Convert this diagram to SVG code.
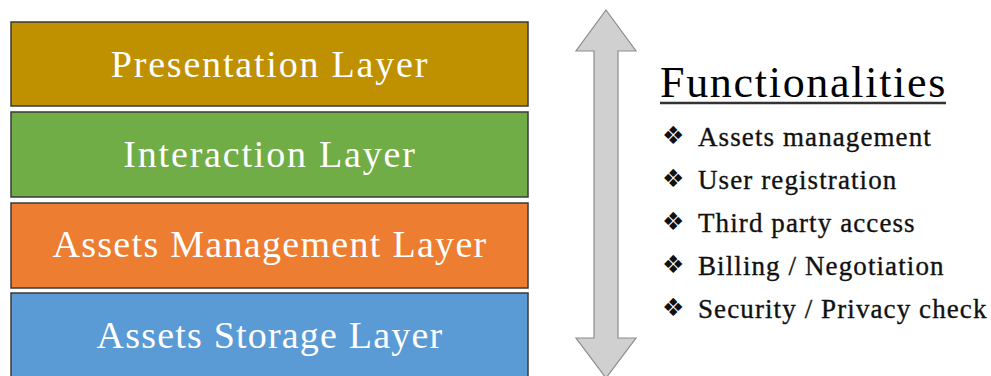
<svg xmlns="http://www.w3.org/2000/svg" width="991" height="376" viewBox="0 0 991 376">
<style>
.box{stroke:#3a3a3a;stroke-width:1.5}
.lbl{font-family:"Liberation Serif","DejaVu Serif",serif;font-size:38px;letter-spacing:1.8px;fill:#ffffff;text-anchor:middle}
.title{font-family:"Liberation Serif","DejaVu Serif",serif;font-size:44px;letter-spacing:1.7px;fill:#000}
.item{font-family:"Liberation Serif","DejaVu Serif",serif;font-size:27px;letter-spacing:1.1px;fill:#111;stroke:#111;stroke-width:0.35}
.bul{font-family:"DejaVu Sans",sans-serif;font-size:25px;fill:#111}
</style>
<rect width="991" height="376" fill="#ffffff"/>
<g id="presentation">
<rect class="box" x="11" y="22" width="517" height="84" fill="#BF9000"/>
<text class="lbl" x="270" y="77">Presentation Layer</text>
</g>
<g id="interaction">
<rect class="box" x="11" y="112" width="517" height="85" fill="#70AD47"/>
<text class="lbl" x="270" y="167">Interaction Layer</text>
</g>
<g id="assets-management">
<rect class="box" x="11" y="203" width="517" height="85" fill="#ED7D31"/>
<text class="lbl" x="270" y="257" style="letter-spacing:1.3px">Assets Management Layer</text>
</g>
<g id="assets-storage">
<rect class="box" x="11" y="293" width="517" height="90" fill="#5B9BD5"/>
<text class="lbl" x="270" y="348" style="letter-spacing:1.2px">Assets Storage Layer</text>
</g>
<g id="connectors">
<polygon points="606,10 636,51 618,51 618,338 636,338 606,378 576,338 594,338 594,51 576,51" fill="#D0D0D0" stroke="#8c8c8c" stroke-width="1.2"/>
</g>
<g id="functionalities">
<text class="title" x="660" y="97">Functionalities</text>
<line x1="660" y1="103" x2="946" y2="103" stroke="#333" stroke-width="2.5"/>
<text class="bul" x="662" y="144">❖</text>
<text class="item" x="698" y="146">Assets management</text>
<text class="bul" x="662" y="187">❖</text>
<text class="item" x="698" y="189">User registration</text>
<text class="bul" x="662" y="230">❖</text>
<text class="item" x="698" y="232">Third party access</text>
<text class="bul" x="662" y="273">❖</text>
<text class="item" x="698" y="275">Billing / Negotiation</text>
<text class="bul" x="662" y="316">❖</text>
<text class="item" x="698" y="318">Security / Privacy check</text>
</g>
</svg>
